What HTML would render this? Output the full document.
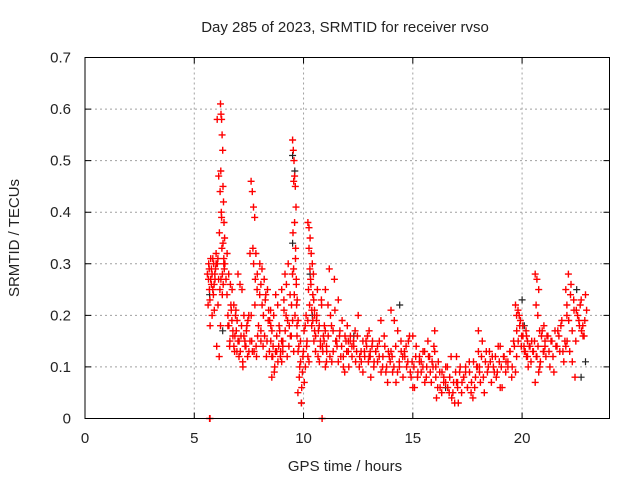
<!DOCTYPE html>
<html><head><meta charset="utf-8"><style>
body{margin:0;background:#fff;width:640px;height:480px;overflow:hidden}
svg text{font-family:"Liberation Sans",sans-serif;font-size:15px;fill:#222}
</style></head><body>
<svg id="chart" width="640" height="480" viewBox="0 0 640 480" xmlns="http://www.w3.org/2000/svg">
<rect width="640" height="480" fill="#fff"/>
<g id="grid"></g>
<g id="black"></g>
<g id="red"></g>
<rect x="85" y="57.5" width="524.5" height="361" fill="none" stroke="#000" stroke-width="1"/>
<g id="ticks"></g>
<text x="345" y="32" text-anchor="middle">Day 285 of 2023, SRMTID for receiver rvso</text>
<text x="345" y="471" text-anchor="middle">GPS time / hours</text>
<text x="19" y="238" text-anchor="middle" transform="rotate(-90 19 238)">SRMTID / TECUs</text>
</svg>
<script>
const xTicks=[0,5,10,15,20];
const yTicks=[0,0.1,0.2,0.3,0.4,0.5,0.6,0.7];
const yTickLabels=["0","0.1","0.2","0.3","0.4","0.5","0.6","0.7"];
// red clusters: [startHour, endHour, values...]
const redClusters=[
[5.6,6.0,[0.28,0.22,0.30,0.25,0.18,0.27,0.29,0.20,0.31,0.24,0.26,0.28,0.29,0.30]],
[6.0,6.2,[0.32,0.14,0.30,0.22,0.27,0.12,0.25,0.18]],
[6.2,6.4,[0.61,0.48,0.59,0.40,0.58,0.33,0.55,0.28,0.52,0.45,0.26,0.42,0.31,0.38,0.29,0.35,0.30]],
[6.5,7.0,[0.32,0.18,0.28,0.14,0.26,0.21,0.25,0.16,0.22,0.13,0.20,0.17,0.19,0.15]],
[7.0,7.5,[0.28,0.12,0.26,0.16,0.25,0.10,0.20,0.15,0.14,0.18,0.19,0.13]],
[7.6,7.9,[0.46,0.15,0.44,0.33,0.41,0.13,0.39,0.27,0.32,0.12,0.25,0.16]],
[8.0,8.5,[0.30,0.17,0.29,0.14,0.27,0.23,0.12,0.25,0.21,0.19,0.18]],
[8.5,9.0,[0.15,0.08,0.12,0.20,0.10,0.24,0.13,0.22,0.14,0.17,0.13,0.11]],
[9.0,9.5,[0.25,0.14,0.23,0.28,0.20,0.12,0.30,0.18,0.16,0.22,0.19]],
[9.5,9.7,[0.54,0.36,0.52,0.29,0.50,0.24,0.47,0.20,0.45,0.33,0.41,0.27,0.22,0.18]],
[9.7,10.2,[0.16,0.05,0.14,0.10,0.11,0.03,0.09,0.13,0.07,0.18,0.20,0.15,0.12]],
[10.2,10.5,[0.38,0.25,0.37,0.22,0.35,0.27,0.32,0.18,0.30,0.24,0.28,0.15,0.20]],
[10.5,11.0,[0.21,0.13,0.19,0.25,0.17,0.11,0.15,0.23,0.14,0.16,0.18,0.10]],
[11.0,12.0,[0.25,0.13,0.22,0.29,0.20,0.11,0.17,0.27,0.15,0.14,0.23,0.16,0.12,0.19,0.10,0.09,0.15,0.18]],
[12.0,13.0,[0.18,0.10,0.16,0.14,0.15,0.17,0.13,0.20,0.12,0.11,0.09,0.13,0.15,0.16,0.12]],
[13.0,14.0,[0.17,0.08,0.15,0.11,0.13,0.14,0.12,0.19,0.10,0.16,0.09,0.07,0.12,0.13]],
[14.0,15.0,[0.21,0.09,0.19,0.07,0.17,0.10,0.15,0.12,0.13,0.14,0.11,0.16,0.08,0.06]],
[15.0,16.0,[0.16,0.06,0.14,0.09,0.12,0.11,0.10,0.13,0.08,0.15,0.12,0.07,0.10,0.17]],
[16.0,17.0,[0.13,0.04,0.11,0.06,0.09,0.08,0.07,0.10,0.05,0.12,0.05,0.03,0.07]],
[17.0,18.0,[0.12,0.03,0.10,0.07,0.08,0.09,0.06,0.11,0.05,0.04,0.06,0.10,0.13]],
[18.0,19.0,[0.17,0.07,0.15,0.05,0.13,0.10,0.11,0.12,0.09,0.08,0.14,0.06]],
[19.0,19.7,[0.14,0.06,0.12,0.11,0.10,0.13,0.08,0.15,0.09]],
[19.7,20.2,[0.22,0.17,0.21,0.20,0.19,0.16,0.18,0.14,0.13,0.12]],
[20.2,21.0,[0.16,0.10,0.14,0.15,0.13,0.07,0.12,0.09,0.11,0.17,0.13]],
[20.6,20.8,[0.28,0.22,0.27,0.20,0.25,0.17]],
[21.0,22.0,[0.18,0.12,0.16,0.10,0.15,0.09,0.14,0.17,0.13,0.19,0.11,0.14]],
[22.0,22.9,[0.25,0.15,0.28,0.13,0.26,0.11,0.23,0.08,0.21,0.20,0.19,0.22,0.17,0.18,0.16,0.24]]
];
// second pass of red samples (denser fill)
const redClusters2=[
[5.65,5.95,[0.27,0.29,0.23,0.31,0.26,0.28,0.25,0.30,0.21,0.27]],
[6.05,6.35,[0.58,0.31,0.47,0.36,0.44,0.27,0.39,0.24,0.34,0.30]],
[6.45,6.95,[0.27,0.24,0.20,0.18,0.15,0.22,0.19,0.17,0.14,0.16,0.21,0.13]],
[7.05,7.55,[0.15,0.13,0.18,0.11,0.16,0.14,0.17,0.12,0.20,0.15]],
[7.55,8.05,[0.32,0.20,0.13,0.30,0.22,0.14,0.28,0.18,0.24,0.15]],
[8.05,8.55,[0.26,0.22,0.20,0.16,0.24,0.15,0.19,0.13,0.21,0.17]],
[8.55,9.05,[0.12,0.14,0.09,0.13,0.16,0.11,0.18,0.12,0.15,0.13]],
[9.05,9.55,[0.15,0.21,0.17,0.26,0.19,0.14,0.24,0.16,0.28,0.13]],
[9.55,9.75,[0.46,0.38,0.31,0.26,0.23,0.19]],
[9.75,10.25,[0.13,0.08,0.15,0.06,0.12,0.17,0.10,0.14,0.19,0.11]],
[10.25,10.55,[0.33,0.29,0.26,0.21,0.19,0.23,0.17,0.16]],
[10.55,11.05,[0.16,0.20,0.12,0.18,0.14,0.22,0.13,0.15,0.17,0.11]],
[11.05,12.05,[0.14,0.16,0.12,0.18,0.13,0.21,0.15,0.11,0.17,0.14,0.12,0.16,0.13,0.15]],
[12.05,13.05,[0.13,0.15,0.12,0.14,0.11,0.16,0.10,0.13,0.15,0.12,0.14,0.11,0.13]],
[13.05,14.05,[0.12,0.14,0.10,0.13,0.11,0.15,0.09,0.12,0.14,0.10,0.13,0.11,0.12]],
[14.05,15.05,[0.12,0.10,0.14,0.09,0.11,0.13,0.08,0.12,0.10,0.15,0.09,0.11,0.10]],
[15.05,16.05,[0.10,0.12,0.08,0.11,0.09,0.13,0.07,0.10,0.12,0.09,0.11,0.14,0.10]],
[16.05,17.05,[0.08,0.06,0.09,0.05,0.07,0.10,0.06,0.08,0.04,0.07,0.09,0.06]],
[17.05,18.05,[0.07,0.09,0.05,0.08,0.10,0.06,0.09,0.07,0.11,0.08,0.10,0.09]],
[18.05,19.05,[0.10,0.12,0.08,0.11,0.09,0.13,0.07,0.10,0.12,0.09,0.11,0.10]],
[19.05,19.75,[0.10,0.12,0.09,0.11,0.13,0.10,0.14,0.12]],
[19.75,20.25,[0.20,0.15,0.18,0.14,0.16,0.13,0.17,0.15]],
[20.25,21.05,[0.12,0.14,0.11,0.13,0.15,0.12,0.14,0.10,0.16,0.13,0.15]],
[21.05,22.05,[0.14,0.16,0.13,0.15,0.12,0.17,0.14,0.16,0.18,0.13,0.15,0.20]],
[22.05,22.95,[0.22,0.19,0.24,0.17,0.21,0.15,0.20,0.18,0.23,0.16,0.19,0.21]]
];
const redZeroT=[5.7,5.72,10.85];
const redZeroV=[0,0,0];
const blackT=[5.7,6.3,9.5,9.5,9.6,9.9,10.3,10.4,12.3,14.4,16.5,20.0,20.1,22.5,22.7,22.9];
const blackV=[0.24,0.17,0.51,0.34,0.48,0.03,0.28,0.20,0.16,0.22,0.06,0.23,0.18,0.25,0.08,0.11];

const X0=85,X1=609.5,Y0=418.5,Y1=57.5;
const xs=t=>X0+(X1-X0)*t/24;
const ys=v=>Y0-(Y0-Y1)*v/0.7;
const NS="http://www.w3.org/2000/svg";
function mk(tag,parent){const e=document.createElementNS(NS,tag);parent.appendChild(e);return e;}
const grid=document.getElementById('grid'),ticks=document.getElementById('ticks');
xTicks.forEach(t=>{
  const x=xs(t);
  if(t>0){const l=mk('line',grid);
  
  
  l.setAttribute('x1',x);l.setAttribute('x2',x);l.setAttribute('y1',Y1);l.setAttribute('y2',Y0);
  l.setAttribute('stroke','#a0a0a0');l.setAttribute('stroke-dasharray','2,3');}
  const tk=mk('path',ticks);
  
  
  tk.setAttribute('d',`M${x} ${Y0}v-6M${x} ${Y1}v6`);tk.setAttribute('stroke','#000');
  const tx=mk('text',ticks);
  
  
  tx.setAttribute('x',x);tx.setAttribute('y',443);tx.setAttribute('text-anchor','middle');tx.textContent=t;
});
yTicks.forEach((v,i)=>{
  const y=ys(v);
  if(v>0&&v<0.7){const l=mk('line',grid);
  
  
  l.setAttribute('x1',X0);l.setAttribute('x2',X1);l.setAttribute('y1',y);l.setAttribute('y2',y);
  l.setAttribute('stroke','#a0a0a0');l.setAttribute('stroke-dasharray','2,3');}
  const tk=mk('path',ticks);
  
  
  tk.setAttribute('d',`M${X0} ${y}h6M${X1} ${y}h-6`);tk.setAttribute('stroke','#000');
  const tx=mk('text',ticks);
  
  
  tx.setAttribute('x',71);tx.setAttribute('y',y+5);tx.setAttribute('text-anchor','end');tx.textContent=yTickLabels[i];
});
function plus(t,v){const x=xs(t),y=ys(v);return `M${(x-3.5).toFixed(1)} ${y.toFixed(1)}h7M${x.toFixed(1)} ${(y-3.5).toFixed(1)}v7`;}
let bd='';blackT.forEach((t,i)=>bd+=plus(t,blackV[i]));
const bp=mk('path',document.getElementById('black'));


bp.setAttribute('d',bd);bp.setAttribute('stroke','#222');bp.setAttribute('stroke-width','1.2');bp.setAttribute('fill','none');
let rd='';
redClusters.concat(redClusters2).forEach(c=>{const [a,b,vals]=c;vals.forEach((v,i)=>{const t=a+(b-a)*(vals.length>1?i/(vals.length-1):0);rd+=plus(t,v);});});
redZeroT.forEach((t,i)=>rd+=plus(t,redZeroV[i]));
const rp=mk('path',document.getElementById('red'));


rp.setAttribute('d',rd);rp.setAttribute('stroke','#ff0000');rp.setAttribute('stroke-width','1.4');rp.setAttribute('fill','none');
</script>
</body></html>
